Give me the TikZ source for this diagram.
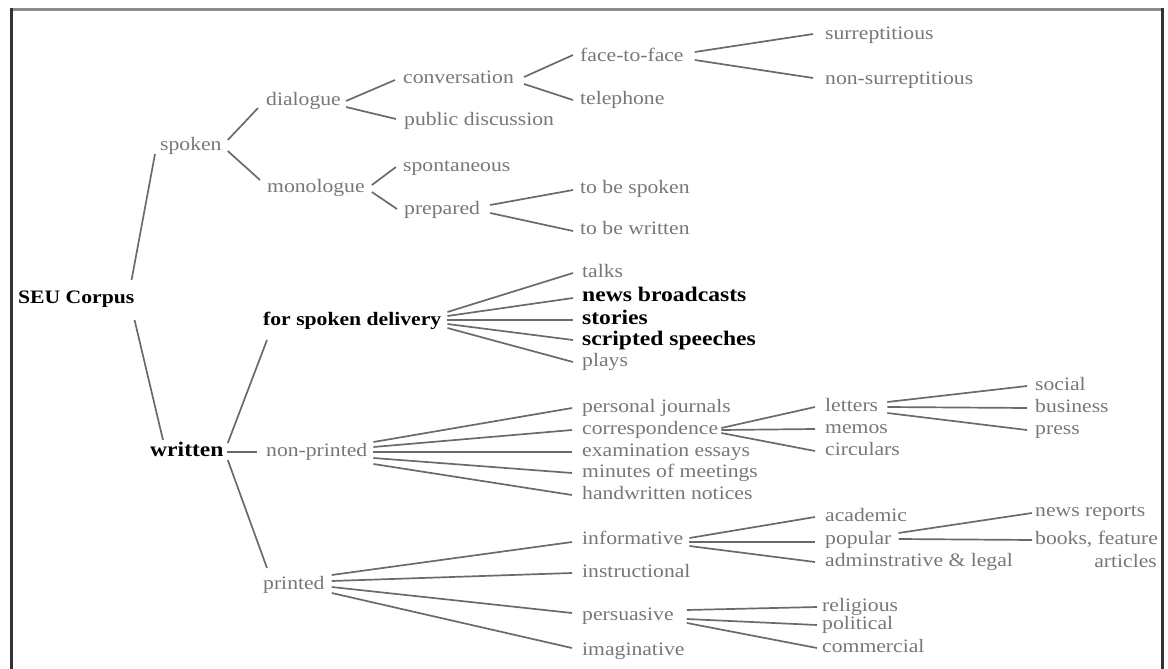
\documentclass[tikz,border=0pt]{standalone}
\usepackage{fontspec}
\setmainfont{Liberation Serif}[FakeStretch=1.14]
\definecolor{txtgray}{HTML}{777777}
\definecolor{linegray}{HTML}{6A6A6A}
\tikzset{
  gtxt/.style={anchor=west, inner sep=0pt, text height=13pt, text depth=4pt, text=txtgray, font=\fontsize{19}{22}\selectfont},
  btxt/.style={gtxt, text=black, font=\fontsize{19}{22}\selectfont\bfseries},
  bbtxt/.style={gtxt, text=black, font=\fontsize{20.7}{24}\selectfont\bfseries},
  conn/.style={draw=linegray, line width=1.7pt},
}
\newcommand\conline[6]{\draw[conn] ([shift={(#2,#3)}]#1.east) -- ([shift={(#5,#6)}]#4.west);}
\begin{document}
\begin{tikzpicture}[x=1pt,y=-1pt]
\useasboundingbox (0,0) rectangle (1168,669);
% frame
\draw[line width=3pt, black!45] (10,9.5) -- (1164,9.5);
\draw[line width=3pt, black!80] (11,8) -- (11,669);
\draw[line width=3pt, black!80] (1162.5,8) -- (1162.5,669);

% nodes
\node[btxt] (seu) at (18,299) {SEU Corpus};
\node[gtxt] (spoken) at (160,146) {spoken};
\node[bbtxt] (written) at (150,452) {written};

\node[gtxt] (dialogue) at (266,101) {dialogue};
\node[gtxt] (monologue) at (267,188) {monologue};
\node[gtxt] (conversation) at (403,79) {conversation};
\node[gtxt] (publicdisc) at (404,121) {public discussion};
\node[gtxt] (f2f) at (580,57) {face-to-face};
\node[gtxt] (telephone) at (580,100) {telephone};
\node[gtxt] (surrep) at (825,35) {surreptitious};
\node[gtxt] (nonsurrep) at (825,80) {non-surreptitious};
\node[gtxt] (spont) at (403,167) {spontaneous};
\node[gtxt] (prepared) at (404,210) {prepared};
\node[gtxt] (tbs) at (580,189) {to be spoken};
\node[gtxt] (tbw) at (580,230) {to be written};

\node[btxt] (fsd) at (263,321) {for spoken delivery};
\node[gtxt] (talks) at (582,273) {talks};
\node[bbtxt] (news) at (582,297) {news broadcasts};
\node[bbtxt] (stories) at (582,320) {stories};
\node[bbtxt] (scripted) at (582,341) {scripted speeches};
\node[gtxt] (plays) at (582,362) {plays};

\node[gtxt] (nonprinted) at (266,452) {non-printed};
\node[gtxt] (pj) at (582,408) {personal journals};
\node[gtxt] (corr) at (582,430) {correspondence};
\node[gtxt] (exam) at (582,452) {examination essays};
\node[gtxt] (minutes) at (582,473) {minutes of meetings};
\node[gtxt] (hand) at (582,495) {handwritten notices};
\node[gtxt] (letters) at (825,407) {letters};
\node[gtxt] (memos) at (825,429) {memos};
\node[gtxt] (circ) at (825,451) {circulars};
\node[gtxt] (social) at (1035,386) {social};
\node[gtxt] (business) at (1035,408) {business};
\node[gtxt] (press) at (1035,430) {press};

\node[gtxt] (printed) at (263,585) {printed};
\node[gtxt] (inf) at (582,540) {informative};
\node[gtxt] (instr) at (582,573) {instructional};
\node[gtxt] (pers) at (582,616) {persuasive};
\node[gtxt] (imag) at (582,651) {imaginative};
\node[gtxt] (acad) at (825,517) {academic};
\node[gtxt] (popular) at (825,540) {popular};
\node[gtxt] (admin) at (825,562) {adminstrative \& legal};
\node[gtxt] (newsrep) at (1035,512) {news reports};
\node[gtxt] (books) at (1035,540) {books, feature};
\node[gtxt, anchor=east] (articles) at (1157,563) {articles};
\node[gtxt] (relig) at (822,607) {religious};
\node[gtxt] (polit) at (822,625) {political};
\node[gtxt] (comm) at (822,648) {commercial};

% connectors
\conline{seu}{-3}{-19}{spoken}{-5}{8}
\conline{seu}{0}{21}{written}{13}{-12}
\conline{written}{4}{-9}{fsd}{4}{19}
\conline{written}{3}{0}{nonprinted}{-9}{0}
\conline{written}{4}{8}{printed}{4}{-17}

\conline{spoken}{6}{-6}{dialogue}{-8}{7}
\conline{spoken}{6}{5}{monologue}{-7}{-8}
\conline{dialogue}{5}{0}{conversation}{-8}{1}
\conline{dialogue}{5}{6}{publicdisc}{-8}{-2}
\conline{conversation}{10}{-2}{f2f}{-7}{-2}
\conline{conversation}{10}{5}{telephone}{-7}{0}
\conline{f2f}{11}{-5}{surrep}{-12}{-1}
\conline{f2f}{11}{3}{nonsurrep}{-12}{-2}
\conline{monologue}{7}{-3}{spont}{-7}{0}
\conline{monologue}{7}{4}{prepared}{-7}{-1}
\conline{prepared}{10}{-5}{tbs}{-7}{1}
\conline{prepared}{10}{3}{tbw}{-7}{1}

\conline{fsd}{6}{-9}{talks}{-9}{0}
\conline{fsd}{6}{-5}{news}{-9}{1}
\conline{fsd}{6}{-1}{stories}{-9}{0}
\conline{fsd}{6}{3}{scripted}{-9}{-1}
\conline{fsd}{6}{7}{plays}{-9}{0}

\conline{nonprinted}{6}{-10}{pj}{-10}{0}
\conline{nonprinted}{6}{-5}{corr}{-10}{0}
\conline{nonprinted}{6}{0}{exam}{-10}{0}
\conline{nonprinted}{6}{6}{minutes}{-10}{0}
\conline{nonprinted}{6}{12}{hand}{-10}{0}
\conline{corr}{3}{-2}{letters}{-10}{0}
\conline{corr}{3}{0}{memos}{-10}{0}
\conline{corr}{3}{3}{circ}{-10}{0}
\conline{letters}{9}{-5}{social}{-8}{0}
\conline{letters}{9}{0}{business}{-8}{0}
\conline{letters}{9}{6}{press}{-8}{0}

\conline{printed}{7}{-10}{inf}{-10}{2}
\conline{printed}{7}{-4}{instr}{-10}{0}
\conline{printed}{7}{2}{pers}{-10}{-3}
\conline{printed}{7}{8}{imag}{-10}{-3}
\conline{inf}{6}{-2}{acad}{-10}{0}
\conline{inf}{6}{2}{popular}{-10}{2}
\conline{inf}{6}{6}{admin}{-10}{0}
\conline{popular}{7}{-7}{newsrep}{-3}{1}
\conline{popular}{7}{-1}{books}{-3}{0}
\conline{pers}{13}{-6}{relig}{-5}{0}
\conline{pers}{13}{3}{polit}{-5}{0}
\conline{pers}{13}{7}{comm}{-5}{0}
\end{tikzpicture}
\end{document}
